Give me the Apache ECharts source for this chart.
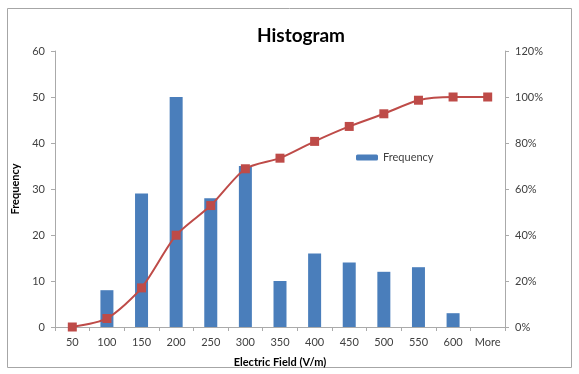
<!DOCTYPE html>
<html><head><meta charset="utf-8">
<script src="https://cdn.jsdelivr.net/npm/echarts@6/dist/echarts.min.js"></script>
<style>html,body{margin:0;padding:0;background:#fff}#c{width:579px;height:374px}</style>
</head><body><div id="c"></div>
<script>
var categories = ['50','100','150','200','250','300','350','400','450','500','550','600','More'];
var frequency = [0, 8, 29, 50, 28, 35, 10, 16, 14, 12, 13, 3, 0];
var cumulativePct = [0, 3.7, 17.0, 39.9, 52.8, 68.8, 73.4, 80.7, 87.2, 92.7, 98.6, 100, 100];
var leftTicks = [0, 10, 20, 30, 40, 50, 60];
var rightTicks = [0, 20, 40, 60, 80, 100, 120];

var font = 'Lato, "Open Sans", sans-serif';
var chart = echarts.init(document.getElementById('c'));
chart.setOption({
  animation: false,
  textStyle: {fontFamily: font},
  graphic: [{type:'rect', shape:{x:7.5,y:8.5,width:564,height:359}, style:{fill:'none', stroke:'#a6a6a6', lineWidth:1}}],
  title: {text:'Histogram', left:296, top:21, textAlign:'center',
    textStyle:{fontFamily:font, fontSize:19, fontWeight:'bold', color:'#000'}},
  legend: {data:['Frequency'], left:351, top:147, itemWidth:22, itemHeight:6, itemGap:4,
    textStyle:{fontFamily:font, fontSize:11, color:'#404040'}},
  grid: {left:55, right:74, top:51, bottom:47},
  xAxis: {type:'category', data:categories, name:'Electric Field (V/m)', nameLocation:'middle', nameGap:30,
    nameTextStyle:{fontFamily:font, fontSize:11, fontWeight:'bold', color:'#000'},
    axisLine:{lineStyle:{color:'#aaa'}}, axisTick:{show:true, length:4, lineStyle:{color:'#aaa'}},
    axisLabel:{fontFamily:font, fontSize:11, color:'#404040', margin:10}},
  yAxis: [
    {type:'value', min:0, max:60, interval:10, name:'Frequency', nameLocation:'middle', nameGap:31,
     nameTextStyle:{fontFamily:font, fontSize:11, fontWeight:'bold', color:'#000'},
     axisLine:{show:true, lineStyle:{color:'#aaa'}}, axisTick:{show:true, length:4, lineStyle:{color:'#aaa'}},
     splitLine:{show:false},
     axisLabel:{fontFamily:font, fontSize:11, color:'#404040', margin:10,
       formatter:function(v){return leftTicks.indexOf(v)>=0? String(v):'';}}},
    {type:'value', min:0, max:120, interval:20, position:'right',
     axisLine:{show:true, lineStyle:{color:'#aaa'}}, axisTick:{show:true, length:4, lineStyle:{color:'#aaa'}},
     splitLine:{show:false},
     axisLabel:{fontFamily:font, fontSize:11, color:'#404040', margin:10,
       formatter:function(v){return rightTicks.indexOf(v)>=0? v+'%':'';}}}
  ],
  series: [
    {name:'Frequency', type:'bar', data:frequency, barWidth:13, itemStyle:{color:'#4a7ebb'}},
    {name:'Cumulative %', type:'line', yAxisIndex:1, data:cumulativePct, symbol:'rect', symbolSize:9,
     smooth:0.25, lineStyle:{color:'#be4b48', width:2}, itemStyle:{color:'#be4b48'}}
  ]
});
</script></body></html>
